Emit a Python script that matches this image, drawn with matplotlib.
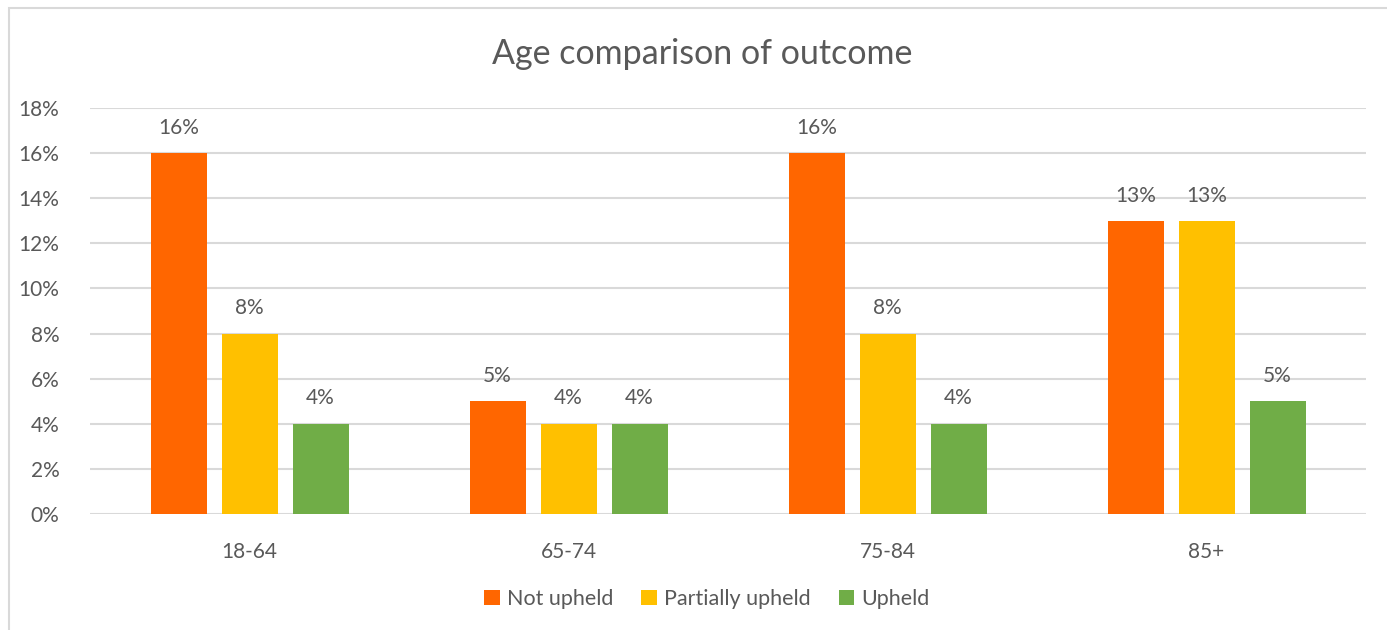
import numpy as np
import matplotlib.pyplot as plt
from matplotlib.patches import Rectangle
from matplotlib.ticker import FuncFormatter

plt.rcParams['font.family'] = ['Lato', 'DejaVu Sans']

# Share of cases by outcome, per age band (percent)
age_groups = ['18-64', '65-74', '75-84', '85+']
not_upheld = [16, 5, 16, 13]
partially_upheld = [8, 4, 8, 13]
upheld = [4, 4, 4, 5]

series = [
    ('Not upheld', not_upheld, '#FF6600'),
    ('Partially upheld', partially_upheld, '#FFC000'),
    ('Upheld', upheld, '#70AD47'),
]

text_col = '#595959'
grid_col = '#D9D9D9'

fig = plt.figure(figsize=(13.87, 6.30), dpi=100)
ax = fig.add_axes([90 / 1387, 116 / 630, 1276 / 1387, 406 / 630])

# chart border (runs off the right and bottom edges)
fig.patches.append(Rectangle((9 / 1387, -0.01), 1.02, 1.01 - 8 / 630,
                             transform=fig.transFigure, fill=False,
                             edgecolor=grid_col, linewidth=1.5))

x = np.arange(len(age_groups))
width = 56 / 319
step = 71 / 319

for i, (name, vals, col) in enumerate(series):
    pos = x + (i - 1) * step
    bars = ax.bar(pos, vals, width, color=col, label=name, zorder=3)
    for b, v in zip(bars, vals):
        ax.annotate(f'{v}%', (b.get_x() + b.get_width() / 2, v),
                    xytext=(0, 11), textcoords='offset points',
                    ha='center', va='bottom', fontsize=15, color=text_col)

ax.set_xlim(-0.5, 3.5)
ax.set_ylim(0, 18)
ax.set_yticks(range(0, 19, 2))
ax.yaxis.set_major_formatter(FuncFormatter(lambda v, _: f'{v:.0f}%'))
ax.set_xticks(x)
ax.set_xticklabels(age_groups)
ax.tick_params(axis='both', length=0, labelsize=15, labelcolor=text_col)
ax.tick_params(axis='x', pad=20)
ax.tick_params(axis='y', pad=22)

ax.grid(axis='y', color=grid_col, linewidth=1.5, zorder=0)
for s in ax.spines.values():
    s.set_visible(False)

fig.text(702 / 1387, 1 - 54 / 630, 'Age comparison of outcome',
         ha='center', va='center', fontsize=24.5, color=text_col)

fig.legend(loc='center', bbox_to_anchor=(707 / 1387, 1 - 599 / 630),
           ncol=3, frameon=False, fontsize=15.5, labelcolor=text_col,
           handlelength=0.7, handleheight=0.7, handletextpad=0.35,
           columnspacing=1.3)

fig.savefig('out.png', dpi=100, facecolor='white')
